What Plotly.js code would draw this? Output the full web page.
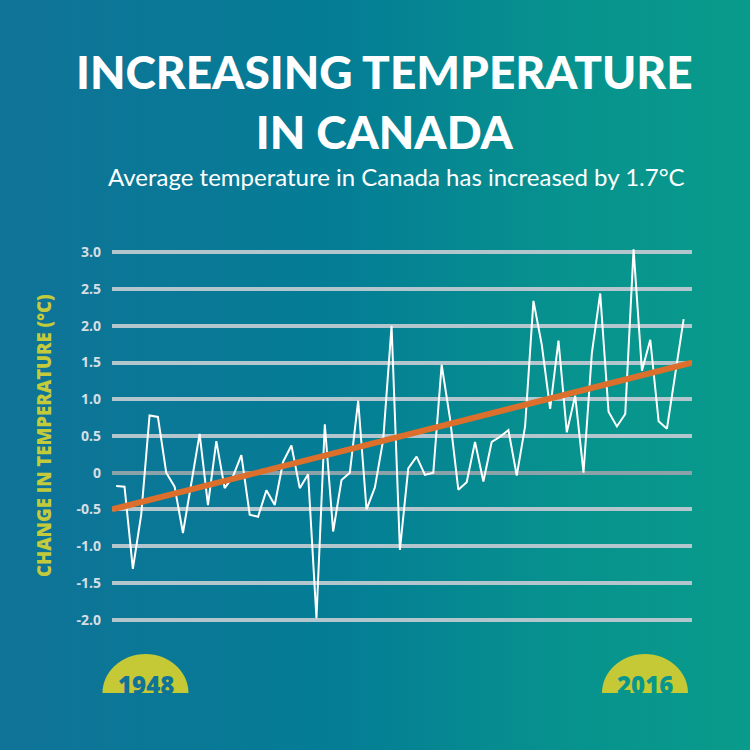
<!DOCTYPE html>
<html>
<head>
<meta charset="utf-8">
<script src="https://cdn.plot.ly/plotly-3.0.1.min.js"></script>
<style>
  html, body { margin: 0; padding: 0; width: 750px; height: 750px; overflow: hidden; }
  body { background: linear-gradient(to right, #107398 0%, #047d95 45%, #07928e 75%, #099b8b 100%); }
  #chart { width: 750px; height: 750px; }
</style>
</head>
<body>
<div id="chart"></div>
<script>
// ---- data ----
const years = [];
for (let y = 1948; y <= 2016; y++) years.push(y);
const anomalies = [
  -0.18, -0.19, -1.31, -0.57, 0.78, 0.76, 0.00, -0.19, -0.82, -0.14,
   0.53, -0.44, 0.43, -0.21, -0.05, 0.24, -0.57, -0.60, -0.24, -0.44,
   0.15, 0.37, -0.21, -0.02, -1.98, 0.66, -0.80, -0.10, 0.00, 0.98,
  -0.50, -0.20, 0.45, 2.00, -1.05, 0.06, 0.22, -0.03, 0.00, 1.47,
   0.74, -0.23, -0.13, 0.42, -0.12, 0.42, 0.49, 0.58, -0.04, 0.63,
   2.34, 1.74, 0.87, 1.80, 0.55, 1.05, 0.00, 1.63, 2.44, 0.83,
   0.63, 0.80, 3.04, 1.39, 1.81, 0.70, 0.60, 1.35, 2.09
];
const trendYears = [1947.5, 2017];
const trendValues = [-0.5, 1.5];
const tickValues = [3.0, 2.5, 2.0, 1.5, 1.0, 0.5, 0, -0.5, -1.0, -1.5, -2.0];
const tickLabels = ["3.0", "2.5", "2.0", "1.5", "1.0", "0.5", "0", "-0.5", "-1.0", "-1.5", "-2.0"];
const startLabel = "1948";
const endLabel = "2016";
const titleText = "INCREASING TEMPERATURE<br>IN CANADA";
const subtitle = "Average temperature in Canada has increased by 1.7°C";
const yTitle = "CHANGE IN TEMPERATURE (°C)";

// ---- layout helpers (pixel -> paper) ----
const W = 750, H = 750;
const M = { l: 112, r: 58, t: 245, b: 123 };
const pw = W - M.l - M.r, ph = H - M.t - M.b;
const px = x => (x - M.l) / pw;
const py = y => (H - M.b - y) / ph;

function dome(cx, base, rx, ry) {
  const k = 0.5523;
  const p = (x, y) => px(x).toFixed(4) + ',' + py(y).toFixed(4);
  return 'M ' + p(cx - rx, base) +
    ' C ' + p(cx - rx, base - k * ry) + ' ' + p(cx - k * rx, base - ry) + ' ' + p(cx, base - ry) +
    ' C ' + p(cx + k * rx, base - ry) + ' ' + p(cx + rx, base - k * ry) + ' ' + p(cx + rx, base) + ' Z';
}

const badgeColor = '#c4c935';

const traces = [
  {
    x: years, y: anomalies, type: 'scatter', mode: 'lines',
    line: { color: '#ffffff', width: 2 }, hoverinfo: 'skip'
  },
  {
    x: trendYears, y: trendValues, type: 'scatter', mode: 'lines',
    line: { color: '#dd6f2c', width: 6 }, hoverinfo: 'skip'
  }
];

const layout = {
  width: W, height: H,
  margin: M,
  paper_bgcolor: 'rgba(0,0,0,0)',
  plot_bgcolor: 'rgba(0,0,0,0)',
  showlegend: false,
  xaxis: {
    range: [1947.5, 2017], showgrid: false, zeroline: false,
    showticklabels: false, showline: false, ticks: ''
  },
  yaxis: {
    range: [-2.1, 3.1],
    tickvals: tickValues, ticktext: tickLabels,
    showgrid: true, gridcolor: '#b3c5cd', gridwidth: 4,
    zeroline: true, zerolinecolor: '#8aa2a8', zerolinewidth: 4,
    showline: false, ticks: '', ticklabelstandoff: 10,
    tickfont: { family: 'Open Sans', size: 14, color: '#d6dee4', weight: 700 }
  },
  shapes: [
    { type: 'path', xref: 'paper', yref: 'paper', path: dome(145.5, 693, 43, 39),
      fillcolor: badgeColor, line: { width: 0 }, layer: 'below' },
    { type: 'path', xref: 'paper', yref: 'paper', path: dome(645, 693, 43, 39),
      fillcolor: badgeColor, line: { width: 0 }, layer: 'below' }
  ],
  annotations: [
    { text: titleText, xref: 'paper', yref: 'paper', x: px(384), y: py(101),
      xanchor: 'center', yanchor: 'middle', showarrow: false, align: 'center',
      font: { family: 'Lato', size: 46, color: '#ffffff', weight: 900 } },
    { text: subtitle, xref: 'paper', yref: 'paper', x: px(396), y: py(177),
      xanchor: 'center', yanchor: 'middle', showarrow: false,
      font: { family: 'Lato', size: 24, color: '#ffffff', weight: 400 } },
    { text: yTitle, xref: 'paper', yref: 'paper', x: px(43), y: py(436),
      xanchor: 'center', yanchor: 'middle', showarrow: false, textangle: -90,
      font: { family: 'Open Sans', size: 18.5, color: '#c4cb3a', weight: 800 } },
    { text: startLabel, xref: 'paper', yref: 'paper', x: px(145.5), y: py(684),
      xanchor: 'center', yanchor: 'middle', showarrow: false,
      font: { family: 'Open Sans', size: 24, color: '#0f7397', weight: 800 } },
    { text: endLabel, xref: 'paper', yref: 'paper', x: px(645), y: py(684),
      xanchor: 'center', yanchor: 'middle', showarrow: false,
      font: { family: 'Open Sans', size: 24, color: '#08968c', weight: 800 } }
  ]
};

Plotly.newPlot('chart', traces, layout, { displayModeBar: false, staticPlot: true });
</script>
</body>
</html>
